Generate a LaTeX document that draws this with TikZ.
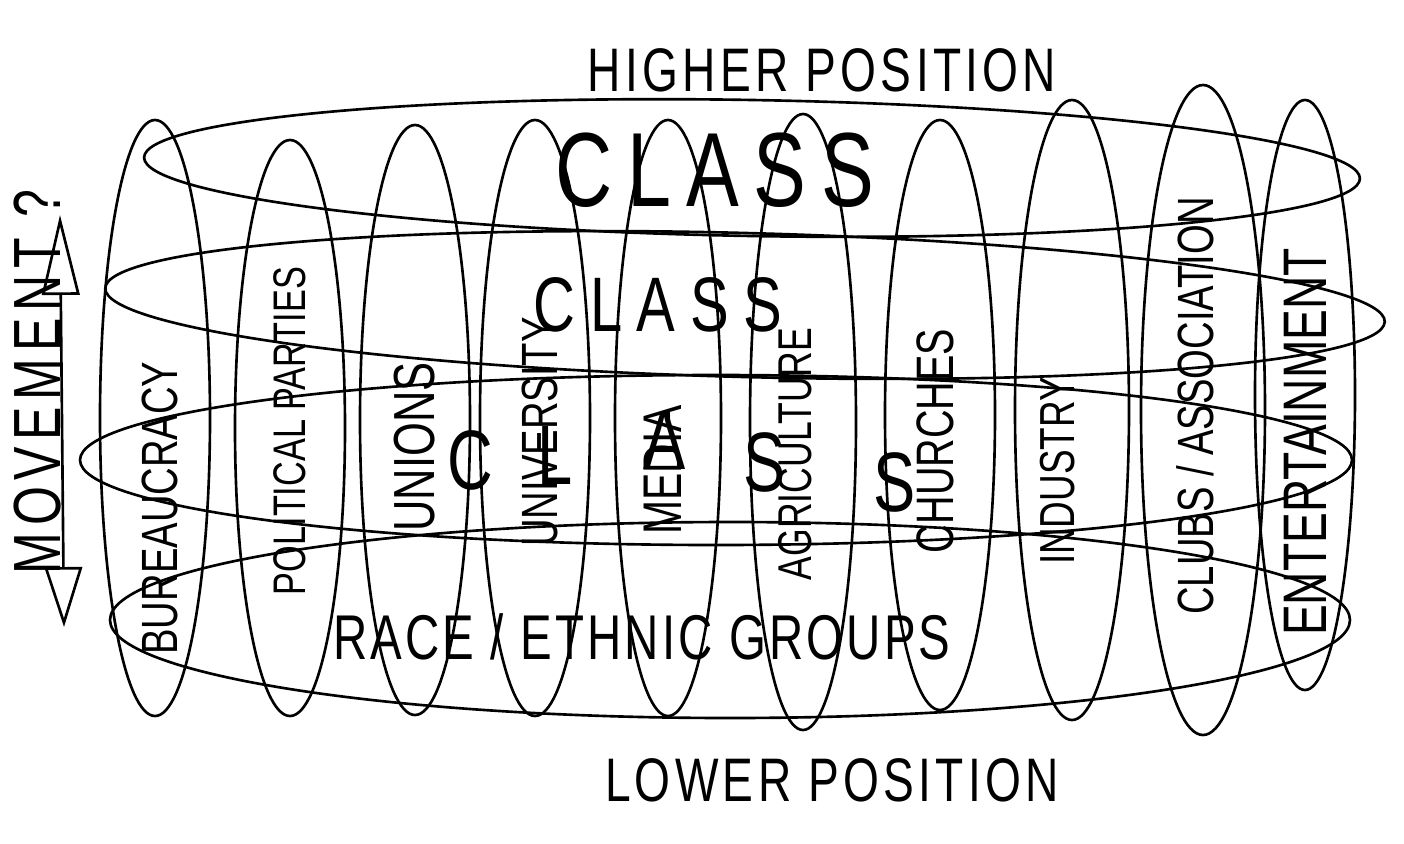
\documentclass[tikz,border=0pt]{standalone}
\usepackage{fontspec}
\newfontfamily\hand[FakeStretch=0.75]{Liberation Sans}
\newcommand{\handsize}[1]{\hand\fontsize{#1}{#1}\selectfont}
\newcommand{\handspaced}[2]{\hand\fontsize{#1}{#1}\selectfont\addfontfeature{LetterSpace=#2}}
\usetikzlibrary{arrows.meta}

\begin{document}
\begin{tikzpicture}[x=0.02cm,y=-0.02cm,line width=1.5pt,
    pen/.style={inner sep=0pt},
    upright/.style={pen,rotate=90}]
  \useasboundingbox (0,0) rectangle (1404,843);

  % titles
  \node[pen,font=\handspaced{35}{7}] (higher) at (822,70) {HIGHER POSITION};
  \node[pen,font=\handspaced{35}{7}] (lower) at (832,780) {LOWER POSITION};

  % institutions
  \draw (155,418) ellipse [x radius=55, y radius=298];
  \draw (290,428) ellipse [x radius=55, y radius=288];
  \draw (415,420) ellipse [x radius=55, y radius=295];
  \draw (535,418) ellipse [x radius=55, y radius=298];
  \draw (668,418) ellipse [x radius=53, y radius=298];
  \draw (803,422) ellipse [x radius=53, y radius=308];
  \draw (940,415) ellipse [x radius=55, y radius=295];
  \draw (1072,410) ellipse [x radius=57, y radius=310];
  \draw (1203,410) ellipse [x radius=62, y radius=325];
  \draw (1305,395) ellipse [x radius=50, y radius=295];

  % strata
  \draw[rotate around={-1:(752,168)}] (752,168) ellipse [x radius=608, y radius=68];
  \draw[rotate around={-1.5:(745,305)}] (745,305) ellipse [x radius=640, y radius=72];
  \draw (716,460) ellipse [x radius=636, y radius=85];
  \draw (730,620) ellipse [x radius=620, y radius=98];

  \node[upright,font=\handsize{29}] (bureau) at (160,508) {BUREAUCRACY};
  \node[upright,font=\handsize{26}] (parties) at (290,431) {POLITICAL PARTIES};
  \node[upright,font=\handsize{33}] (unions) at (415,447) {UNIONS};
  \node[upright,font=\handsize{29}] (univ) at (540,432) {UNIVERSITY};
  \node[upright,font=\handsize{31}] (media) at (663,470) {MEDIA};
  \node[upright,font=\handsize{27}] (agri) at (795,454) {AGRICULTURE};
  \node[upright,font=\handsize{30}] (church) at (935,441) {CHURCHES};
  \node[upright,font=\handsize{28}] (industry) at (1058,471) {INDUSTRY};
  \node[upright,font=\handsize{29}] (clubs) at (1195,406) {CLUBS / ASSOCIATION};
  \node[upright,font=\handsize{35}] (enter) at (1305,442) {ENTERTAINMENT};

  \node[pen,font=\handspaced{60}{14}] (classA) at (715,170) {CLASS};
  \node[pen,font=\handspaced{44}{19}] (classB) at (658,305) {CLASS};
  \foreach \letter/\lx/\ly [count=\i] in {C/470/460,L/555/455,A/665/440,S/765/462,S/895/482}
    \node[pen,font=\handsize{48}] (classC\i) at (\lx,\ly) {\letter};
  \node[pen,font=\handspaced{36}{5}] (race) at (642,637) {RACE / ETHNIC GROUPS};

  % movement
  \node[upright,font=\handspaced{38}{10}] (move) at (38,382) {MOVEMENT ?};
  \coordinate (mvtop) at (60,215);
  \coordinate (mvbot) at (64,627);
  \draw[{Triangle[open,length=1.6cm,width=0.75cm]}-{Triangle[open,length=1.2cm,width=0.75cm]}] (mvtop) -- (mvbot);
\end{tikzpicture}
\end{document}
